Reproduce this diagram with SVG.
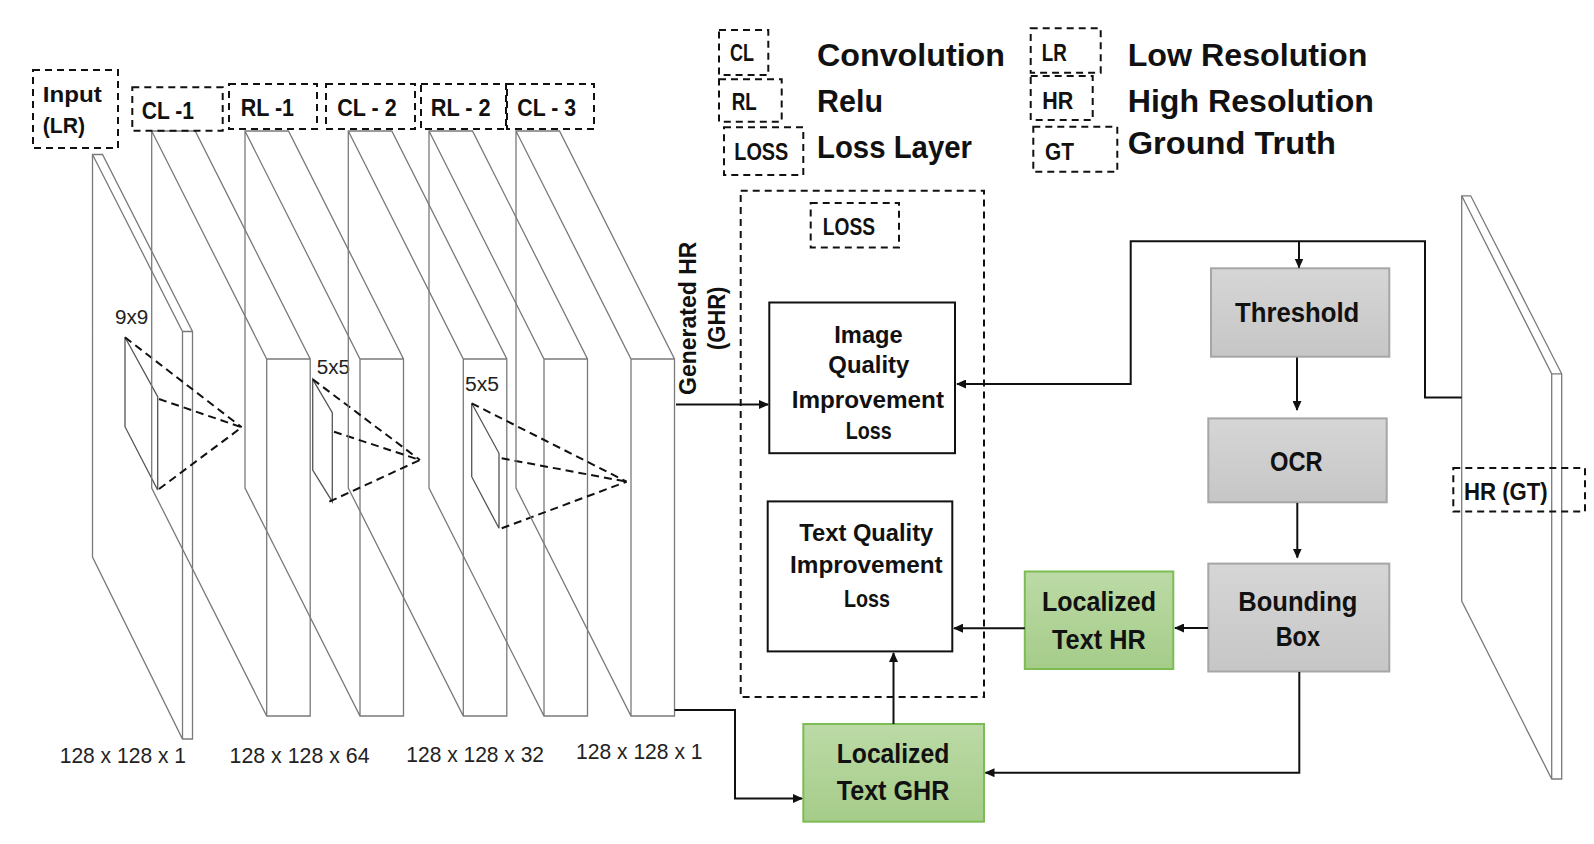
<svg xmlns="http://www.w3.org/2000/svg" xmlns:xlink="http://www.w3.org/1999/xlink" width="1594" height="844" viewBox="0 0 1594 844">
<style>
.lay{fill:none;stroke:#7a7a7a;stroke-width:1.3}
.ker{fill:none;stroke:#555;stroke-width:1.3}
.kd{fill:none;stroke:#111;stroke-width:2;stroke-dasharray:8 5}
.db{fill:none;stroke:#111;stroke-width:2;stroke-dasharray:7 5}
.sb{fill:#fff;stroke:#111;stroke-width:2}
.gb{fill:url(#gGray);stroke:#a6a6a6;stroke-width:2}
.grb{fill:url(#gGreen);stroke:#7dbb55;stroke-width:2}
.conn{fill:none;stroke:#111;stroke-width:2}
.b{font-family:"Liberation Sans",Arial,sans-serif;font-weight:bold;fill:#111}
.r{font-family:"Liberation Sans",Arial,sans-serif;font-weight:normal;fill:#222}
</style>
<defs>
<linearGradient id="gGray" x1="0" y1="0" x2="0" y2="1">
<stop offset="0" stop-color="#d6d6d6"/><stop offset="1" stop-color="#c6c6c6"/>
</linearGradient>
<linearGradient id="gGreen" x1="0" y1="0" x2="0" y2="1">
<stop offset="0" stop-color="#bcdaa6"/><stop offset="1" stop-color="#a5cc89"/>
</linearGradient>
<marker id="ah" markerUnits="userSpaceOnUse" markerWidth="10" markerHeight="9" refX="9" refY="4.5" orient="auto">
<path d="M0,0 L10,4.5 L0,9 Z" fill="#111"/>
</marker>
<path id="layer" d="M0,357 V0 H43.5 L158.5,228 V585 H115 Z M0,0 L115,228 H158.5 M115,228 V585"/>
</defs>
<rect width="1594" height="844" fill="#fff"/>

<g id="input-layer">
<path class="lay" d="M92.5,557 V154.5 H102.5 L192.5,331.5 V739 H182.5 Z M92.5,154.5 L182.5,331.5 H192.5 M182.5,331.5 V739"/>
<rect class="db" x="33" y="70" width="85" height="78"/>
<text class="b" font-size="22" x="42.7" y="101.7" textLength="59" lengthAdjust="spacingAndGlyphs">Input</text>
<text class="b" font-size="22" x="42.7" y="132.7" textLength="42.3" lengthAdjust="spacingAndGlyphs">(LR)</text>
<path class="ker" d="M125,337.3 L157.7,396.7 V490 L125,426.7 Z"/>
<path class="kd" d="M125,337.3 L241.7,427.3 M159,399 L241.7,427.3 M159,489 L241.7,427.3"/>
<text class="r" font-size="20" x="115" y="324.3" textLength="33.3" lengthAdjust="spacingAndGlyphs">9x9</text>
<text class="r" font-size="22" x="59.7" y="763" textLength="126.3" lengthAdjust="spacingAndGlyphs">128 x 128 x 1</text>
</g>

<g id="cl1">
<use href="#layer" xlink:href="#layer" class="lay" transform="translate(151.7,131)"/>
<rect class="db" x="132.3" y="87.3" width="90.4" height="43.4"/>
<text class="b" font-size="23" x="141.7" y="119" textLength="52.3" lengthAdjust="spacingAndGlyphs">CL -1</text>
</g>

<g id="rl1">
<use href="#layer" xlink:href="#layer" class="lay" transform="translate(245,131)"/>
<rect class="db" x="229" y="84" width="88" height="45"/>
<text class="b" font-size="23" x="240.7" y="115.5" textLength="53.3" lengthAdjust="spacingAndGlyphs">RL -1</text>
<path class="ker" d="M312.7,379.3 L332.3,412.7 V501.7 L312.7,470 Z"/>
<path class="kd" d="M312.7,379.3 L420,460 M334,431.7 L420,460 M329.3,501.7 L420,460"/>
<text class="r" font-size="20" x="316.7" y="374.3" textLength="33.3" lengthAdjust="spacingAndGlyphs">5x5</text>
<text class="r" font-size="22" x="229.6" y="762.5" textLength="140" lengthAdjust="spacingAndGlyphs">128 x 128 x 64</text>
</g>

<g id="cl2">
<use href="#layer" xlink:href="#layer" class="lay" transform="translate(348.3,131)"/>
<rect class="db" x="326" y="84" width="89" height="45"/>
<text class="b" font-size="23" x="337.3" y="115.5" textLength="59.4" lengthAdjust="spacingAndGlyphs">CL - 2</text>
</g>

<g id="rl2">
<use href="#layer" xlink:href="#layer" class="lay" transform="translate(429,131)"/>
<rect class="db" x="421" y="84" width="85" height="45"/>
<text class="b" font-size="23" x="430.7" y="115.5" textLength="60" lengthAdjust="spacingAndGlyphs">RL - 2</text>
<path class="ker" d="M471.7,403.3 L499,453.3 V528.3 L471.7,476.7 Z"/>
<path class="kd" d="M471.7,403.3 L626.7,481.7 M501.7,458.3 L626.7,481.7 M501.7,528.3 L626.7,481.7"/>
<text class="r" font-size="20" x="465" y="391" textLength="34" lengthAdjust="spacingAndGlyphs">5x5</text>
<text class="r" font-size="22" x="406.3" y="761.7" textLength="137.7" lengthAdjust="spacingAndGlyphs">128 x 128 x 32</text>
</g>

<g id="cl3">
<use href="#layer" xlink:href="#layer" class="lay" transform="translate(516,131)"/>
<rect class="db" x="507" y="84" width="87" height="45"/>
<text class="b" font-size="23" x="517.3" y="115.5" textLength="58.7" lengthAdjust="spacingAndGlyphs">CL - 3</text>
<text class="r" font-size="22" x="576" y="759" textLength="126.5" lengthAdjust="spacingAndGlyphs">128 x 128 x 1</text>
<text class="b" font-size="23" transform="translate(696,318.3) rotate(-90)" text-anchor="middle" textLength="153.3" lengthAdjust="spacingAndGlyphs">Generated HR</text>
<text class="b" font-size="23" transform="translate(725,318.3) rotate(-90)" text-anchor="middle" textLength="63.3" lengthAdjust="spacingAndGlyphs">(GHR)</text>
</g>

<g id="legend">
<rect class="db" x="719" y="30" width="49.3" height="45"/>
<text class="b" font-size="23" x="730" y="61" textLength="24" lengthAdjust="spacingAndGlyphs">CL</text>
<rect class="db" x="719" y="79.3" width="62.7" height="42.4"/>
<text class="b" font-size="23" x="731.7" y="109.5" textLength="25" lengthAdjust="spacingAndGlyphs">RL</text>
<rect class="db" x="724" y="127.3" width="79.3" height="47.7"/>
<text class="b" font-size="23" x="734.3" y="159.5" textLength="54" lengthAdjust="spacingAndGlyphs">LOSS</text>
<text class="b" font-size="31" x="817" y="66.3" textLength="188" lengthAdjust="spacingAndGlyphs">Convolution</text>
<text class="b" font-size="31" x="817" y="111.7" textLength="66" lengthAdjust="spacingAndGlyphs">Relu</text>
<text class="b" font-size="31" x="817" y="158" textLength="155" lengthAdjust="spacingAndGlyphs">Loss Layer</text>
<rect class="db" x="1030.7" y="28.3" width="70" height="44.4"/>
<text class="b" font-size="23" x="1041.7" y="61" textLength="25" lengthAdjust="spacingAndGlyphs">LR</text>
<rect class="db" x="1030.7" y="76" width="62" height="44"/>
<text class="b" font-size="23" x="1042.3" y="108.7" textLength="31" lengthAdjust="spacingAndGlyphs">HR</text>
<rect class="db" x="1033.3" y="126.7" width="84" height="45"/>
<text class="b" font-size="23" x="1045" y="159.5" textLength="29" lengthAdjust="spacingAndGlyphs">GT</text>
<text class="b" font-size="31" x="1127.7" y="66" textLength="239.7" lengthAdjust="spacingAndGlyphs">Low Resolution</text>
<text class="b" font-size="31" x="1127.7" y="111.7" textLength="246.3" lengthAdjust="spacingAndGlyphs">High Resolution</text>
<text class="b" font-size="31" x="1127.7" y="154" textLength="208.3" lengthAdjust="spacingAndGlyphs">Ground Truth</text>
</g>

<g id="loss-group">
<rect class="db" x="740.7" y="190.7" width="243.3" height="506.3"/>
<rect class="db" x="810.7" y="203" width="88.3" height="44.5"/>
<text class="b" font-size="23" x="822.8" y="235.3" textLength="52.2" lengthAdjust="spacingAndGlyphs">LOSS</text>
</g>

<g id="image-quality-loss">
<rect class="sb" x="769.3" y="302.5" width="185.7" height="150.7"/>
<text class="b" font-size="23" x="834.3" y="342.5" textLength="68.4" lengthAdjust="spacingAndGlyphs">Image</text>
<text class="b" font-size="23" x="828.3" y="373" textLength="81" lengthAdjust="spacingAndGlyphs">Quality</text>
<text class="b" font-size="23" x="791.7" y="408" textLength="152.3" lengthAdjust="spacingAndGlyphs">Improvement</text>
<text class="b" font-size="23" x="845.7" y="439" textLength="46" lengthAdjust="spacingAndGlyphs">Loss</text>
</g>

<g id="text-quality-loss">
<rect class="sb" x="767.7" y="501.4" width="184.6" height="150"/>
<text class="b" font-size="23" x="799.3" y="540.7" textLength="134" lengthAdjust="spacingAndGlyphs">Text Quality</text>
<text class="b" font-size="23" x="790" y="573" textLength="152.7" lengthAdjust="spacingAndGlyphs">Improvement</text>
<text class="b" font-size="23" x="844" y="607" textLength="46" lengthAdjust="spacingAndGlyphs">Loss</text>
</g>

<g id="threshold">
<rect class="gb" x="1211" y="268.3" width="178.3" height="88.4"/>
<text class="b" font-size="28" x="1235" y="321.7" textLength="124.3" lengthAdjust="spacingAndGlyphs">Threshold</text>
</g>

<g id="ocr">
<rect class="gb" x="1208.3" y="418.4" width="178.4" height="83.9"/>
<text class="b" font-size="28" x="1270" y="470.6" textLength="52.7" lengthAdjust="spacingAndGlyphs">OCR</text>
</g>

<g id="bounding-box">
<rect class="gb" x="1208.3" y="563.6" width="181" height="107.9"/>
<text class="b" font-size="28" x="1238.3" y="611" textLength="119" lengthAdjust="spacingAndGlyphs">Bounding</text>
<text class="b" font-size="28" x="1275.7" y="645.8" textLength="44.3" lengthAdjust="spacingAndGlyphs">Box</text>
</g>

<g id="localized-text-hr">
<rect class="grb" x="1024.8" y="571.5" width="148.5" height="97.5"/>
<text class="b" font-size="27" x="1042" y="611" textLength="114" lengthAdjust="spacingAndGlyphs">Localized</text>
<text class="b" font-size="27" x="1052" y="648.5" textLength="93.7" lengthAdjust="spacingAndGlyphs">Text HR</text>
</g>

<g id="localized-text-ghr">
<rect class="grb" x="803.3" y="724" width="180.7" height="97.7"/>
<text class="b" font-size="27" x="836.7" y="763.3" textLength="112.6" lengthAdjust="spacingAndGlyphs">Localized</text>
<text class="b" font-size="27" x="836.7" y="800" textLength="112.6" lengthAdjust="spacingAndGlyphs">Text GHR</text>
</g>

<g id="hr-gt">
<path class="lay" d="M1461.7,601 V195.8 H1470.7 L1561.7,373.8 V779 H1551.7 Z M1461.7,195.8 L1551.7,373.8 H1561.7 M1551.7,373.8 V779"/>
<rect class="db" x="1453.3" y="467.9" width="131.7" height="43.5"/>
<text class="b" font-size="23" x="1464" y="499.5" textLength="83.7" lengthAdjust="spacingAndGlyphs">HR (GT)</text>
</g>

<g id="connectors">
<path class="conn" d="M676,404.5 H768" marker-end="url(#ah)"/>
<path class="conn" d="M1461.7,397.5 H1425 V241.3 H1130.7 V384 H957" marker-end="url(#ah)"/>
<path class="conn" d="M1299,241.3 V267.5" marker-end="url(#ah)"/>
<path class="conn" d="M1297,357.5 V410" marker-end="url(#ah)"/>
<path class="conn" d="M1297.3,503 V557.6" marker-end="url(#ah)"/>
<path class="conn" d="M1208,628 H1175" marker-end="url(#ah)"/>
<path class="conn" d="M1024.8,628.2 H954" marker-end="url(#ah)"/>
<path class="conn" d="M1299.3,672 V772.7 H985.5" marker-end="url(#ah)"/>
<path class="conn" d="M674.5,710 H735 V798.5 H802" marker-end="url(#ah)"/>
<path class="conn" d="M893.5,724 V653" marker-end="url(#ah)"/>
</g>
</svg>
